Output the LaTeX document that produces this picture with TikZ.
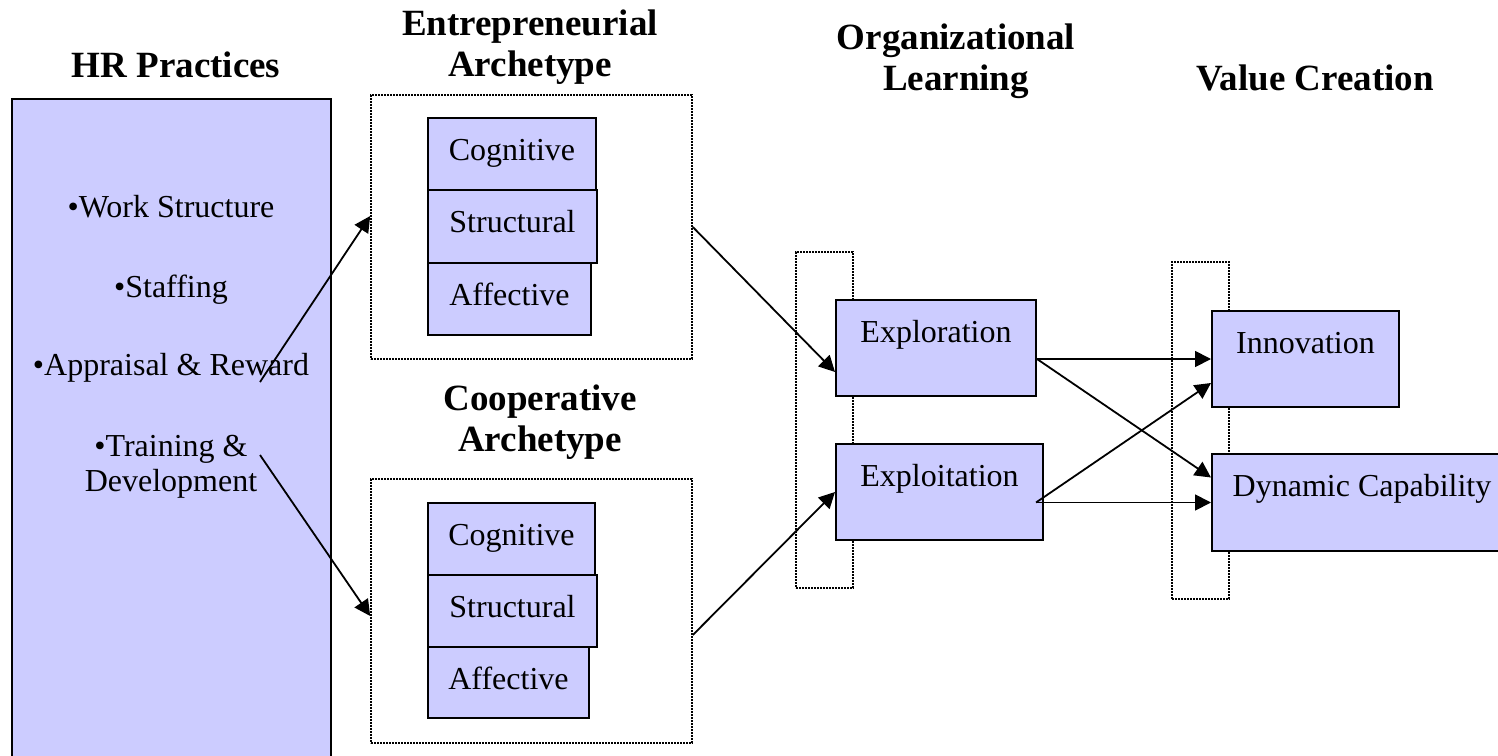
\documentclass[tikz,border=0pt]{standalone}
\usepackage{fontspec}
\setmainfont{Liberation Serif}
\usetikzlibrary{arrows.meta}

\begin{document}
\begin{tikzpicture}[x=0.5pt,y=-0.5pt,
    box/.style={draw, fill=r204g204b255, line width=1pt, inner sep=0pt,
        text height=21pt, font=\fontsize{16}{17.5}\selectfont},
    dotbox/.style={draw, line width=0.8pt, dash pattern=on 0.8pt off 0.7pt, inner sep=0pt},
    title/.style={font=\fontsize{18.5}{20.5}\selectfont\bfseries, align=center,
        inner sep=0pt, text depth=0pt, anchor=south},
    item/.style={font=\fontsize{16}{17.5}\selectfont, align=center,
        inner sep=0pt, text depth=0pt, anchor=south},
    link/.style={line width=0.9pt, -{Triangle[length=8pt,width=8pt]}}]
        \useasboundingbox (0,0) rectangle (1498,755);
        \definecolor{r204g204b255}{rgb}{0.800000,0.800000,1.000000}%

        % Drawing titles
        \node [title] (tHR) at (176,78) {HR Practices};%
        \node [title] (tEnt) at (530,77) {Entrepreneurial\\Archetype};%
        \node [title] (tCoop) at (540,452) {Cooperative\\Archetype};%
        \node [title] (tOrg) at (956,91) {Organizational\\Learning};%
        \node [title] (tVal) at (1315,91) {Value Creation};%

        % Drawing HR practices box
        \node [draw, fill=r204g204b255, line width=1pt, minimum width=159.5pt,
            minimum height=335.5pt] (hr) at (171.5,434.5) {};%
        \node [item] (hrWork) at (171,218) {•Work Structure};%
        \node [item] (hrStaff) at (171,298) {•Staffing};%
        \node [item] (hrApp) at (171,376) {•Appraisal \& Reward};%
        \node [item] (hrTrain) at (171,492) {•Training \&\\Development};%

        % Drawing dotted group frames
        \node [dotbox, minimum width=160.5pt, minimum height=132pt] (ent) at (531.5,227) {};%
        \node [dotbox, minimum width=160.5pt, minimum height=132pt] (coop) at (531.5,611) {};%
        \node [dotbox, minimum width=28.5pt, minimum height=168pt] (org) at (824.5,420) {};%
        \node [dotbox, minimum width=28.5pt, minimum height=168.5pt] (val) at (1200.5,430.5) {};%

        % Drawing entrepreneurial archetype stack
        \node [box, minimum width=84pt, text depth=15pt] (entCog) at (512,154) {Cognitive};%
        \node [box, minimum width=84.5pt, text depth=15.5pt] (entStr) at (512.5,226.5) {Structural};%
        \node [box, minimum width=81.5pt, text depth=15pt] (entAff) at (509.5,299) {Affective};%

        % Drawing cooperative archetype stack
        \node [box, minimum width=83.5pt, text depth=15pt] (coopCog) at (511.5,539) {Cognitive};%
        \node [box, minimum width=84.5pt, text depth=15pt] (coopStr) at (512.5,611) {Structural};%
        \node [box, minimum width=80.5pt, text depth=14.5pt] (coopAff) at (508.5,682.5) {Affective};%

        % Drawing learning and value boxes
        \node [box, minimum width=100pt, text depth=27pt] (expl) at (936,348) {Exploration};%
        \node [box, minimum width=103.5pt, text depth=27pt] (exploit) at (939.5,492) {Exploitation};%
        \node [box, minimum width=93.5pt, text depth=27pt] (innov) at (1305.5,359) {Innovation};%
        \node [box, minimum width=150pt, text depth=27.5pt] (dyn) at (1362,502.5) {Dynamic Capability};%

        % Drawing arrows
        \coordinate (hrA) at (260,382);
        \coordinate (hrT) at (260,455);
        \draw [link] (hrA) -- ([yshift=5.5pt]ent.west);%
        \draw [link] (hrT) -- ([yshift=-2.5pt]coop.west);%
        \draw [link] (ent.east) -- ([yshift=-12pt]expl.west);%
        \draw [link] ([yshift=-12pt]coop.east) -- (exploit.west);%
        \draw [link] (expl.east |- innov.west) -- (innov.west);%
        \draw [link] (expl.east |- innov.west) -- ([yshift=12.5pt]dyn.west);%
        \draw [link] ([xshift=-4pt]exploit.east |- dyn.west) -- ([yshift=-12pt]innov.west);%
        \draw [link] ([xshift=-4pt]exploit.east |- dyn.west) -- (dyn.west);%
    \end{tikzpicture}
\end{document}
